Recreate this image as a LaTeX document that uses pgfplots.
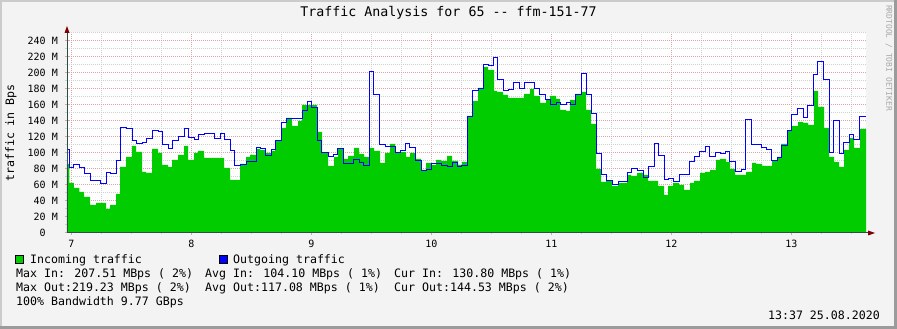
\documentclass[border=0pt]{standalone}
\usepackage{fontspec}
\usepackage{pgfplots}
\pgfplotsset{compat=1.18}
\usepackage{pgfplotstable}
\newfontfamily\dvm{DejaVu Sans Mono}
\definecolor{bgc}{HTML}{F3F3F3}
\definecolor{shadeA}{HTML}{CBCBCB}
\definecolor{shadeB}{HTML}{9B9B9B}
\definecolor{mgridc}{HTML}{DCA4A4}
\definecolor{gridc}{HTML}{CFCFCF}
\definecolor{axisc}{HTML}{2C4D43}
\definecolor{arrowc}{HTML}{7F0000}
\definecolor{ingreen}{HTML}{00CC00}
\definecolor{outblue}{HTML}{0000FF}
\definecolor{wmark}{HTML}{A8A8A8}
\pgfplotstableread{
x y
-0.93 86.3
-0.39 62.5
0.54 56.3
1.61 51.3
2.54 45
3.74 35
4.94 37.5
6.94 30
7.74 35
8.94 48.8
9.74 82.5
10.94 95
12.14 108.8
12.94 101.3
14.14 76.3
14.94 75
16.14 105
17.34 100
18.14 85
19.34 82.5
20.14 91.3
21.34 97.5
22.54 108.8
23.34 91.3
24.54 100
25.34 102.5
26.54 93.8
30.54 81.3
31.74 66.3
33.74 86.3
34.94 95
35.74 97.5
36.94 105
37.74 103.8
38.74 100
39.94 102.5
40.74 115
41.94 131.3
42.94 143.8
44.14 133.8
45.34 140
46.14 160
49.14 126.3
50.14 100
51.34 83.8
52.54 95
53.34 105
54.34 92.5
55.34 96.3
56.54 106.3
57.54 98.8
58.54 95
59.54 106.3
60.54 102.5
61.74 87.5
62.74 100
63.74 111.3
64.74 100
65.74 101.3
66.94 95
67.74 100
68.74 92.5
69.94 78.8
70.94 87.5
71.94 85
72.94 91.3
73.94 90
75.14 96.3
76.14 90
77.34 85
78.14 88.8
79.14 146.3
80.14 165
81.34 181.3
82.34 207.5
83.34 203.8
84.54 177.5
85.14 176.3
86.34 172.5
87.34 168.8
90.54 173.8
91.74 180
92.54 171.3
93.74 162.5
94.94 166.3
95.74 171.3
96.94 167.5
97.74 153.8
98.94 152.5
99.74 166.3
100.74 173.8
101.94 176.3
102.94 153.8
103.94 136.3
104.94 80
105.94 63.8
106.94 65
108.14 58.8
109.34 62.5
111.14 72.5
111.94 71.3
113.14 75
114.34 72.5
115.34 65
117.34 58.8
118.54 47.5
119.34 58.8
120.34 62.5
121.54 60
122.54 53.8
123.74 62.5
124.54 65
125.74 75
126.74 76.3
127.74 78.8
128.94 91.3
129.74 92.5
130.94 88.8
131.74 80
132.74 72.5
134.94 76.3
136.14 87.5
136.94 86.3
138.14 83.8
140.14 90
141.14 95
141.94 111.3
143.14 127.5
144.14 133.8
145.34 138.8
146.34 137.5
147.34 135
148.54 177.5
149.34 157.5
150.54 131.3
151.54 95
152.54 88.8
153.54 82.5
154.54 103.8
155.54 118.8
156.54 106.3
157.74 130
158.94 130
}\intab
\pgfplotstableread{
x y
-0.93 103.8
-0.39 81.3
0.54 85
1.61 81.3
2.54 73.8
3.74 65
5.74 61.3
6.94 75
7.74 73.8
8.94 90
9.74 131.3
10.94 130
12.14 115
12.94 111.3
14.14 112.5
14.94 117.5
16.14 127.5
17.34 126.3
18.14 110
19.34 105
20.14 115
21.34 120
22.54 130
23.34 118.8
24.54 116.3
25.34 122.5
26.54 123.8
28.54 117.5
29.74 123.8
30.54 116.3
31.74 102.5
32.54 83.8
33.74 85
34.94 88.8
36.94 106.3
37.74 105
38.74 96.3
39.94 103.8
40.74 115
41.94 137.5
42.94 142.5
46.14 152.5
47.14 163.8
47.94 156.3
49.14 115
49.94 100
51.34 95
52.34 97.5
53.14 105
54.34 86.3
56.34 91.3
57.54 87.5
58.34 83.8
59.54 201.3
60.34 172.5
61.54 110
62.74 107.5
64.74 100
65.74 102.5
66.74 111.3
67.54 106.3
68.74 90
69.94 77.5
70.94 78.8
71.94 86.3
73.94 83.8
75.14 82.5
76.14 87.5
77.14 82.5
77.94 83.8
79.14 145
80.14 177.5
81.34 180
82.34 210
83.34 208.8
84.34 218.8
85.14 191.3
86.34 177.5
87.34 178.8
88.34 187.5
89.54 180
90.54 187.5
92.54 180
93.54 172.5
94.74 166.3
95.74 160
96.94 162.5
97.74 160
98.94 162.5
99.74 160
100.74 172.5
101.94 198.8
102.94 172.5
103.94 148.8
104.94 98.8
105.94 72.5
106.94 65
108.14 60
109.34 63.8
111.14 75
111.94 80
113.14 77.5
114.34 68.8
115.34 82.5
116.54 111.3
117.34 96.3
118.54 66.3
119.34 67.5
120.34 63.8
121.54 72.5
123.54 88.8
124.54 95
125.54 101.3
126.74 107.5
127.54 95
128.74 100
129.74 98.8
130.74 101.3
131.54 88.8
132.74 76.3
133.94 78.8
134.74 141.3
135.94 110
137.94 106.3
138.94 103.8
139.94 90
141.14 93.8
141.94 108.8
143.14 127.5
143.94 147.5
145.14 155
146.34 143.8
147.14 158.8
148.34 197.5
149.14 213.8
150.34 191.3
151.54 100.4
152.34 140
153.54 98.8
154.34 112.5
155.54 122.5
156.34 116.3
157.54 145
158.94 145
}\outtab
\begin{document}
\begin{tikzpicture}[x=1pt,y=1pt]
\useasboundingbox (0,0) rectangle (897,329);
\fill[bgc] (0,0) rectangle (897,329);
\fill[shadeA] (0,0) rectangle (2,329);
\fill[shadeA] (0,327) rectangle (897,329);
\fill[shadeB] (0,0) rectangle (897,3);
\fill[shadeB] (894,0) rectangle (897,329);
\fill[white] (67,96) rectangle (866,297);
\begin{axis}[
  at={(67pt,96pt)}, anchor=south west,
  scale only axis, width=799pt, height=201pt,
  xmin=-0.86, xmax=158.94, ymin=0, ymax=251.25,
  axis line style={draw=none},
  tick pos=left,
  xtick={0,24,...,144},
  xticklabels={7,8,9,10,11,12,13},
  minor xtick={6,12,18,30,36,42,54,60,66,78,84,90,102,108,114,126,132,138,150,156},
  ytick={0,20,...,240},
  yticklabels={0\hphantom{\ M},20 M,40 M,60 M,80 M,100 M,120 M,140 M,160 M,180 M,200 M,220 M,240 M},
  minor ytick={10,30,...,250},
  grid=both,
  major grid style={draw=mgridc, line width=1pt, dash pattern=on 1pt off 1pt},
  minor grid style={draw=gridc, line width=1pt, dash pattern=on 1pt off 1pt},
  tick align=center,
  major tick length=4pt, minor tick length=3pt,
  major tick style={draw=mgridc, line width=1pt, solid},
  minor tick style={draw=gridc, line width=1pt, solid},
  ticklabel style={font=\dvm\fontsize{10}{12}\selectfont, text=black},
  xticklabel style={anchor=base, inner sep=0pt, yshift=-12.3pt},
  yticklabel style={anchor=east, inner sep=0pt, xshift=-7pt},
]
\addplot[const plot, fill=ingreen, draw=none] table[x=x,y=y] {\intab} \closedcycle;
\addplot[const plot, draw=outblue, line width=1pt] table[x=x,y=y] {\outtab};
\end{axis}
\draw[axisc, line width=1pt] (67,96) -- (67,297);
\draw[axisc, line width=1pt] (67,96) -- (868,96);
\fill[arrowc] (64.5,296) -- (69.5,296) -- (67,303) -- cycle;
\fill[arrowc] (868,93.5) -- (868,98.5) -- (875,96) -- cycle;
\node[font=\dvm\fontsize{13.3}{15}\selectfont, anchor=base, inner sep=0pt] at (448.5,312.3) {Traffic Analysis for 65 -{}- ffm-151-77};
\node[rotate=90, font=\dvm\fontsize{11.6}{14}\selectfont, inner sep=0pt] at (11,196) {traffic in Bps};
\node[rotate=-90, font=\dvm\fontsize{8}{9}\selectfont, text=wmark, inner sep=0pt] at (889,271) {RRDTOOL / TOBI OETIKER};
\filldraw[fill=ingreen, draw=black, line width=1pt] (15.5,65.5) rectangle (23.5,73.5);
\filldraw[fill=outblue, draw=black, line width=1pt] (219.5,65.5) rectangle (227.5,73.5);
\begin{scope}[every node/.style={font=\dvm\fontsize{11.6}{14}\selectfont, anchor=base west, inner sep=0pt}]
\node at (30,65.5) {Incoming traffic};
\node at (233,65.5) {Outgoing traffic};
\node at (16,51.5) {Max In: 207.51 MBps ( 2\%)};
\node at (205,51.5) {Avg In: 104.10 MBps ( 1\%)};
\node at (394,51.5) {Cur In: 130.80 MBps ( 1\%)};
\node at (16,37.5) {Max Out:219.23 MBps ( 2\%)};
\node at (205,37.5) {Avg Out:117.08 MBps ( 1\%)};
\node at (394,37.5) {Cur Out:144.53 MBps ( 2\%)};
\node at (16,23.5) {100\% Bandwidth 9.77 GBps};
\node[anchor=base east] at (880,9.8) {13:37 25.08.2020};
\end{scope}
\end{tikzpicture}
\end{document}
